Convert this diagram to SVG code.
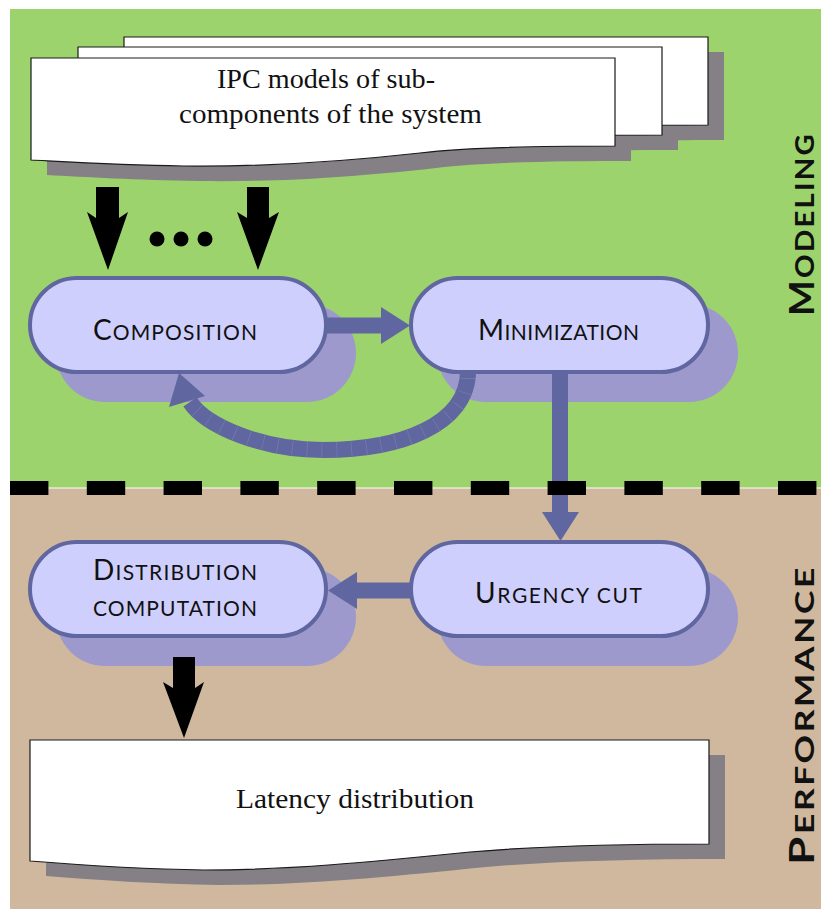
<svg xmlns="http://www.w3.org/2000/svg" xmlns:xlink="http://www.w3.org/1999/xlink" width="821" height="909" viewBox="0 0 821 909">
<style>
.doc{fill:#ffffff;stroke:#1a1a1a;stroke-width:1.2}
.docsh{fill:#857f86}
.node{fill:#cfcffd;stroke:#6066a0;stroke-width:4}
.nsh{fill:#9d99cd}
.lbl{font-family:Lato,"Open Sans",sans-serif;font-size:28px;fill:#111}
.sc{font-size:21px}
.side{font-family:Lato,"Open Sans",sans-serif;font-weight:700;font-size:35px;fill:#111;letter-spacing:2px}
.sside{font-size:27px}
.serif{font-family:"Liberation Serif",serif;font-size:27px;fill:#111}
.blue{fill:#6066a0}
.black{fill:#000}
</style>
<defs>
<path id="docA" d="M 31 58 H 615 V 146 C 540 146 470 147 420 153 C 330 163 260 167 183 166 C 120 165 70 162 31 160 Z"/>
<path id="docB" d="M 30 740 H 709 V 844 C 620 844 540 846 470 852 C 370 862 290 870 204 870 C 140 869 80 865 30 861 Z"/>
</defs>

<g id="background">
<rect x="10" y="9" width="811" height="478.5" fill="#9dd36c"/>
<rect x="10" y="488.5" width="811" height="420.5" fill="#cfb89d"/>
</g>

<g id="ipc-models">
<use href="#docA" class="docsh" transform="translate(109,-6)"/>
<use href="#docA" class="docsh" transform="translate(63,4)"/>
<use href="#docA" class="docsh" transform="translate(16,15)"/>
<use href="#docA" class="doc" transform="translate(93,-21)"/>
<use href="#docA" class="doc" transform="translate(47,-11)"/>
<use href="#docA" class="doc"/>
<text class="serif" x="217" y="88" textLength="218" lengthAdjust="spacingAndGlyphs">IPC models of sub-</text>
<text class="serif" x="179" y="123" textLength="303" lengthAdjust="spacingAndGlyphs">components of the system</text>
</g>

<g id="composition">
<rect class="nsh" x="56" y="304" width="300" height="98" rx="49"/>
<rect class="node" x="30" y="278" width="296" height="94" rx="47"/>
<text class="lbl" x="93" y="340" textLength="164" lengthAdjust="spacing">C<tspan class="sc">OMPOSITION</tspan></text>
</g>

<g id="minimization">
<rect class="nsh" x="437" y="304" width="301" height="98" rx="49"/>
<rect class="node" x="411" y="278" width="297" height="94" rx="47"/>
<text class="lbl" x="478" y="340" textLength="161" lengthAdjust="spacing">M<tspan class="sc">INIMIZATION</tspan></text>
</g>

<g id="urgency-cut">
<rect class="nsh" x="437" y="568" width="301" height="98" rx="49"/>
<rect class="node" x="411" y="542" width="297" height="94" rx="47"/>
<text class="lbl" x="475" y="603" textLength="167" lengthAdjust="spacing">U<tspan class="sc">RGENCY CUT</tspan></text>
</g>

<g id="distribution-computation">
<rect class="nsh" x="56" y="568" width="300" height="98" rx="49"/>
<rect class="node" x="30" y="542" width="296" height="94" rx="47"/>
<text class="lbl" x="93" y="580" textLength="164" lengthAdjust="spacing">D<tspan class="sc">ISTRIBUTION</tspan></text>
<text class="lbl sc" x="93" y="616" textLength="164" lengthAdjust="spacing">COMPUTATION</text>
</g>

<g id="latency-distribution">
<use href="#docB" class="docsh" transform="translate(16,15)"/>
<use href="#docB" class="doc"/>
<text class="serif" x="236" y="808" textLength="238" lengthAdjust="spacingAndGlyphs">Latency distribution</text>
</g>

<g id="connectors">
<polygon class="black" points="96,187 119,187 119,218 128,212 108,270 87,212 96,218"/>
<polygon class="black" points="247,187 269,187 269,218 279,212 258,270 237,212 247,218"/>
<circle class="black" cx="157" cy="239" r="7.5"/>
<circle class="black" cx="181" cy="239" r="7.5"/>
<circle class="black" cx="205" cy="239" r="7.5"/>
<rect class="blue" x="326" y="317.5" width="57" height="16"/>
<polygon class="blue" points="381,307 410,325.5 381,344"/>
<path d="M 468 371 C 468 425 400 450 323 450 C 262 450 206 426 190 402" fill="none" stroke="#6066a0" stroke-width="16"/>
<path d="M 468 378 C 468 425 400 450 323 450 C 262 450 206 426 190 402" fill="none" stroke="#8a90b8" stroke-width="15" stroke-dasharray="0.8 14" opacity="0.5"/>
<polygon class="blue" points="179,373 205,396 169,407"/>
<rect class="blue" x="552" y="371" width="16" height="143"/>
<polygon class="blue" points="542,512 579,512 560.5,541"/>
<rect class="blue" x="355" y="582.5" width="57" height="16"/>
<polygon class="blue" points="357,572 357,609 328,590.5"/>
<polygon class="black" points="173,657 195,657 195,688 204,682 184,738 163,682 173,688"/>
</g>

<g id="separator">
<line x1="10" y1="488" x2="821" y2="488" stroke="#000" stroke-width="14" stroke-dasharray="38.4 38.4"/>
</g>

<g id="side-labels">
<text class="side" transform="translate(814,316) rotate(-90)" textLength="184" lengthAdjust="spacingAndGlyphs">M<tspan class="sside">ODELING</tspan></text>
<text class="side" transform="translate(814,865) rotate(-90)" textLength="300" lengthAdjust="spacingAndGlyphs">P<tspan class="sside">ERFORMANCE</tspan></text>
</g>
</svg>
